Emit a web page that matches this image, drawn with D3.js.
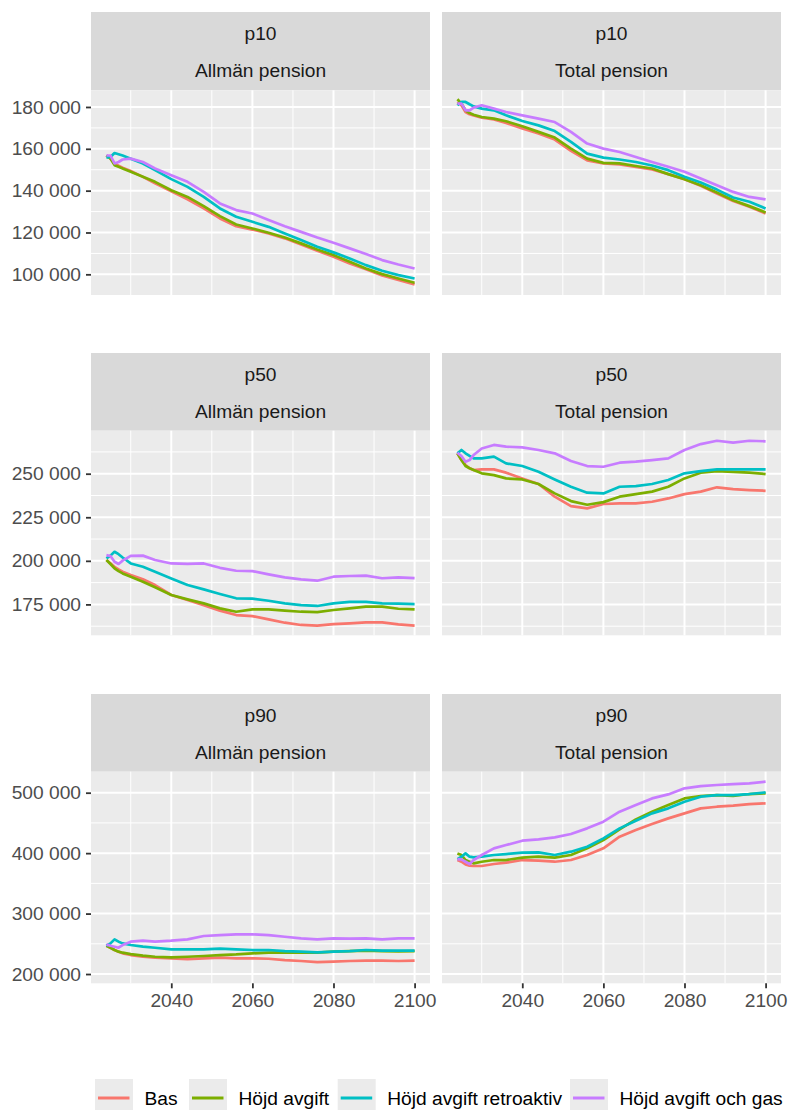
<!DOCTYPE html>
<html><head><meta charset="utf-8">
<script src="https://cdn.jsdelivr.net/npm/d3@7"></script>
<style>
html,body{margin:0;padding:0;background:#fff;}
svg{display:block;font-family:"Liberation Sans",Arial,Helvetica,sans-serif;}
</style></head>
<body><svg id="chart" width="788" height="1110"></svg>
<script>
// ---------- DATA ----------
const years = [2024,2025,2026,2027,2028,2030,2033,2036,2040,2044,2048,2052,2056,2060,2064,2068,2072,2076,2080,2084,2088,2092,2096,2100];
const seriesNames = ["Bas","Höjd avgift","Höjd avgift retroaktiv","Höjd avgift och gas"];
const percentiles = ["p10","p50","p90"];
const pensionTypes = ["Allmän pension","Total pension"];

// p10 – Allmän pension
const p10_allman_bas   = [156800,155300,153000,151900,151000,149400,146600,143500,139700,135900,131500,126700,123000,121400,119500,117200,114300,111300,108400,105200,102400,99500,97300,95200];
const p10_allman_hojd  = [156800,155300,152200,151400,150600,149000,146600,144200,140200,137000,132600,127800,123800,121900,119900,117600,114800,111900,109200,106000,102800,100100,98000,96000];
const p10_allman_retro = [155800,156100,158000,157400,156800,155300,153000,149800,145500,141800,137000,131500,127500,125100,122700,119500,116400,113200,110500,107600,104400,101700,99600,98000];
const p10_allman_gas   = [156800,156800,153000,153700,154900,155300,153700,150600,147400,144200,139400,133900,130700,129100,126000,123000,120300,117600,115100,112400,109700,106800,104700,102800];
// p10 – Total pension
const p10_total_bas    = [182400,180800,177600,176500,175900,174900,174000,172400,169700,167300,164400,159000,154500,153000,152500,151400,150100,147900,145500,142300,138600,135100,132300,129100];
const p10_total_hojd   = [183700,181600,178400,177100,176300,175200,174400,173200,170800,168100,165400,160100,155300,153300,153000,151800,150600,147900,145500,142600,139100,135400,132600,129600];
const p10_total_retro  = [180800,182400,182400,181300,180300,179200,178400,176000,173300,171200,168500,163300,157700,155800,154900,153700,152000,149800,146600,143900,140500,136700,134700,131500];
const p10_total_gas    = [181600,181600,178400,178400,179700,180800,179200,177600,176000,174400,172800,168100,162500,160100,158500,156100,153700,151400,149000,145800,142600,139400,137000,135800];
// p50 – Allmän pension
const p50_allman_bas   = [200500,198600,196600,195100,193800,191900,189400,186100,180400,177500,174600,171400,168900,168300,166400,164500,163200,162800,163700,164100,164700,164700,163500,162800];
const p50_allman_hojd  = [200500,198200,195700,194100,192800,190900,188000,184800,180400,177900,175600,172700,170800,172100,172100,171400,170800,170600,171800,172700,173700,173700,172500,172100];
const p50_allman_retro = [201400,203000,205200,203800,201900,198500,196600,193800,189900,186100,183600,181000,178500,178300,177100,175600,174600,174100,175600,176400,176500,175600,175400,175200];
const p50_allman_gas   = [203300,202800,199500,198200,200100,202800,203000,200500,198500,198200,198500,196000,194300,194100,192200,190500,189400,188600,190900,191300,191500,190000,190500,190100];
// p50 – Total pension
const p50_total_bas    = [261700,257800,255000,253100,252100,252500,252500,250600,247300,244100,236800,231400,230100,232600,233000,233000,233900,235800,238300,239700,242200,241100,240600,240200];
const p50_total_hojd   = [261700,257800,254400,253100,252100,250200,249200,247300,246700,244100,238700,234300,232200,233700,236800,238300,239700,242500,247300,250600,251500,251100,250600,249800];
const p50_total_retro  = [261700,263600,261700,260200,258800,258800,259800,255900,254400,251100,246700,242500,239100,238700,242500,242900,244100,246400,250200,251500,252500,252500,252500,252500];
const p50_total_gas    = [262000,260100,256900,257800,260700,264500,266500,265500,265100,263600,261700,257300,254400,254000,256300,256900,257800,258800,263600,267000,268900,267800,268900,268600];
// p90 – Allmän pension
const p90_allman_bas   = [246800,243500,239700,237000,234200,231400,228600,227000,225900,224800,225900,227000,225900,225900,225300,223100,221500,219800,220400,221500,222000,222000,221500,222000];
const p90_allman_hojd  = [246800,243500,239700,237000,235300,233000,230300,228600,227500,228600,229800,231400,232500,234200,235300,235800,235300,235300,236900,238000,238600,238000,237500,238000];
const p90_allman_retro = [246800,250700,257300,253500,250700,248000,245200,243500,240800,240800,240800,241900,240800,239700,239700,238000,236900,235800,236900,238000,239700,238600,238600,238600];
const p90_allman_gas   = [249000,246800,245200,243500,247900,253500,255100,253500,255100,257300,262900,264500,265600,265600,264500,261700,258900,257300,258900,258400,258900,257300,258900,258900];
// p90 – Total pension
const p90_total_bas    = [388600,385800,381400,379200,378700,378700,382000,384200,388600,387500,385800,388600,396900,407900,427200,438200,448200,457500,465800,474100,476800,478500,481200,482400];
const p90_total_hojd   = [399600,396900,388600,385800,383100,385800,388600,388600,392500,394100,392500,396900,407900,421700,439300,455900,468600,479600,490600,494500,496100,494500,497800,498900];
const p90_total_retro  = [390200,394100,399600,394100,393000,394100,396900,398500,400700,401300,396900,402400,410700,424400,441000,453700,465800,474100,485100,493400,496100,496100,497800,500500];
const p90_total_gas    = [390200,389600,385800,382000,388600,396900,407900,413400,420600,422800,426100,431600,441000,452000,468600,479600,490600,497200,507200,511000,512700,514300,515400,518200];

// tick labels
const xTicks = [2040,2060,2080,2100];
const yTicksP10 = [100000,120000,140000,160000,180000];
const yTicksP50 = [175000,200000,225000,250000];
const yTicksP90 = [200000,300000,400000,500000];

// ---------- LAYOUT / STYLE ----------
const colors = ["#F8766D","#7CAE00","#00BFC4","#C77CFF"];
const panelData = [
  [[p10_allman_bas,p10_allman_hojd,p10_allman_retro,p10_allman_gas],[p10_total_bas,p10_total_hojd,p10_total_retro,p10_total_gas]],
  [[p50_allman_bas,p50_allman_hojd,p50_allman_retro,p50_allman_gas],[p50_total_bas,p50_total_hojd,p50_total_retro,p50_total_gas]],
  [[p90_allman_bas,p90_allman_hojd,p90_allman_retro,p90_allman_gas],[p90_total_bas,p90_total_hojd,p90_total_retro,p90_total_gas]]
];
const rows = [
  {stripTop:12,  panelTop:90.3,  panelBottom:295,   domain:[90119,187971],  ticks:yTicksP10},
  {stripTop:353, panelTop:430.7, panelBottom:635.3, domain:[157271,274674], ticks:yTicksP50},
  {stripTop:694, panelTop:771.7, panelBottom:983.3, domain:[184646,534745], ticks:yTicksP90}
];
const cols = [{x0:91,x1:430},{x0:442,x1:781}];
const xDomain = [2020.2,2103.8];
const FS = 19.2;

const fmt = d3.formatLocale({decimal:",",thousands:" ",grouping:[3],currency:["","kr"]}).format(",.0f");

const svg = d3.select("#chart");
svg.append("rect").attr("width",788).attr("height",1110).attr("fill","#fff");

function minorOf(ticks, domain){
  const step = ticks[1]-ticks[0];
  const out = [];
  for (let v = ticks[0]-step/2; v <= domain[1]; v += step){ if (v>=domain[0]) out.push(v); }
  return out;
}

rows.forEach((row, ri) => {
  const y = d3.scaleLinear().domain(row.domain).range([row.panelBottom,row.panelTop]);
  cols.forEach((col, ci) => {
    const x = d3.scaleLinear().domain(xDomain).range([col.x0,col.x1]);
    const g = svg.append("g");
    // strip
    g.append("rect").attr("x",col.x0).attr("y",row.stripTop).attr("width",col.x1-col.x0)
      .attr("height",row.panelTop-row.stripTop).attr("fill","#D9D9D9");
    const cx = (col.x0+col.x1)/2;
    g.append("text").attr("x",cx).attr("y",row.stripTop+28).attr("text-anchor","middle")
      .attr("font-size",FS).attr("fill","#1A1A1A").text(percentiles[ri]);
    g.append("text").attr("x",cx).attr("y",row.stripTop+65.3).attr("text-anchor","middle")
      .attr("font-size",FS).attr("fill","#1A1A1A").text(pensionTypes[ci]);
    // panel
    g.append("rect").attr("x",col.x0).attr("y",row.panelTop).attr("width",col.x1-col.x0)
      .attr("height",row.panelBottom-row.panelTop).attr("fill","#EBEBEB");
    const grid = g.append("g");
    const xMinor = minorOf(xTicks, xDomain);
    const yMinor = minorOf(row.ticks, row.domain);
    grid.selectAll(".ymin").data(yMinor).enter().append("line")
      .attr("x1",col.x0).attr("x2",col.x1).attr("y1",d=>y(d)).attr("y2",d=>y(d))
      .attr("stroke","#fff").attr("stroke-width",1);
    grid.selectAll(".xmin").data(xMinor).enter().append("line")
      .attr("y1",row.panelTop).attr("y2",row.panelBottom).attr("x1",d=>x(d)).attr("x2",d=>x(d))
      .attr("stroke","#fff").attr("stroke-width",1);
    grid.selectAll(".ymaj").data(row.ticks).enter().append("line")
      .attr("x1",col.x0).attr("x2",col.x1).attr("y1",d=>y(d)).attr("y2",d=>y(d))
      .attr("stroke","#fff").attr("stroke-width",2);
    grid.selectAll(".xmaj").data(xTicks).enter().append("line")
      .attr("y1",row.panelTop).attr("y2",row.panelBottom).attr("x1",d=>x(d)).attr("x2",d=>x(d))
      .attr("stroke","#fff").attr("stroke-width",2);
    // lines
    const line = d3.line().x((d,i)=>x(years[i])).y(d=>y(d));
    panelData[ri][ci].forEach((vals, si) => {
      g.append("path").datum(vals).attr("d",line).attr("fill","none")
        .attr("stroke",colors[si]).attr("stroke-width",2.7).attr("stroke-linejoin","round").attr("stroke-linecap","butt");
    });
    // y axis on left column
    if (ci===0){
      const ax = d3.axisLeft(y).tickValues(row.ticks).tickFormat(fmt).tickSize(5).tickPadding(5);
      const a = svg.append("g").attr("transform",`translate(${col.x0},0)`).call(ax);
      a.select(".domain").remove();
      a.selectAll(".tick line").attr("stroke","#333").attr("stroke-width",1.8);
      a.selectAll(".tick text").attr("font-size",FS).attr("fill","#4D4D4D")
        .attr("font-family","'Liberation Sans',Arial,sans-serif");
    }
    // x axis on bottom row
    if (ri===rows.length-1){
      const ax = d3.axisBottom(x).tickValues(xTicks).tickFormat(d3.format("d")).tickSize(5).tickPadding(5);
      const a = svg.append("g").attr("transform",`translate(0,${row.panelBottom})`).call(ax);
      a.select(".domain").remove();
      a.selectAll(".tick line").attr("stroke","#333").attr("stroke-width",1.8);
      a.selectAll(".tick text").attr("font-size",FS).attr("fill","#4D4D4D")
        .attr("font-family","'Liberation Sans',Arial,sans-serif");
    }
  });
});

// legend
const legendX = [95,189,337.7,570];
const lg = svg.append("g");
seriesNames.forEach((name, i) => {
  const x0 = legendX[i];
  lg.append("rect").attr("x",x0).attr("y",1079).attr("width",38).attr("height",38).attr("fill","#EBEBEB");
  lg.append("line").attr("x1",x0+3).attr("x2",x0+34.5).attr("y1",1098).attr("y2",1098)
    .attr("stroke",colors[i]).attr("stroke-width",3);
  lg.append("text").attr("x",x0+49.5).attr("y",1104.8).attr("font-size",FS).attr("fill","#000").text(name);
});
</script></body></html>
